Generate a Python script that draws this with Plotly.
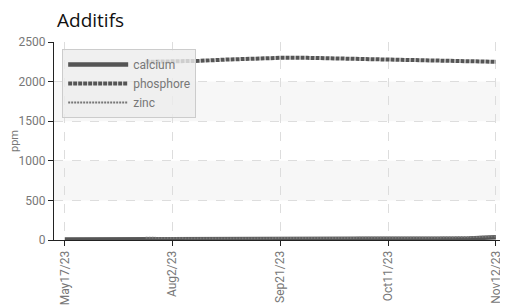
import plotly.graph_objects as go

dates = ["May17/23", "Jun5/23", "Jun21/23", "Jul12/23", "Aug2/23", "Aug9/23", "Aug23/23",
         "Sep7/23", "Sep21/23", "Sep26/23", "Oct1/23", "Oct6/23", "Oct11/23", "Oct19/23",
         "Oct27/23", "Nov4/23", "Nov12/23"]
tick_labels = ["May17/23", "Aug2/23", "Sep21/23", "Oct11/23", "Nov12/23"]

calcium = [5, 6, 6, 8, 10, 10, 10, 10, 10, 10, 10, 10, 10, 12, 14, 20, 35]
phosphore = [None, None, None, 2250, 2255, 2262, 2278, 2292, 2300, 2300, 2292, 2288, 2282,
             2270, 2258, 2254, 2250]
zinc = [None, None, None, 28, 22, 22, 22, 22, 22, 22, 22, 22, 24, 26, 30, 36, 45]

font_tick = "Roboto, sans-serif"

fig = go.Figure()
fig.add_trace(go.Scatter(x=dates, y=calcium, name="calcium", mode="lines",
                         line=dict(color="#555555", width=4.5), connectgaps=True))
fig.add_trace(go.Scatter(x=dates, y=phosphore, name="phosphore", mode="lines",
                         line=dict(color="#555555", width=4, dash="4px,1px"), connectgaps=True))
fig.add_trace(go.Scatter(x=dates, y=zinc, name="zinc", mode="lines",
                         line=dict(color="#777777", width=2, dash="2px,1px"), connectgaps=True))

for lo, hi in [(500, 1000), (1500, 2000)]:
    fig.add_shape(type="rect", xref="paper", yref="y", x0=0, x1=1, y0=lo, y1=hi,
                  fillcolor="#f7f7f7", line=dict(width=0), layer="below")

W, H = 500, 297
fig.update_layout(
    width=W, height=H,
    margin=dict(l=46, r=0, t=34, b=65, autoexpand=False),
    paper_bgcolor="white", plot_bgcolor="white",
    title=dict(text="Additifs", x=49/W, xref="container", xanchor="left",
               y=1-12/H, yref="container", yanchor="middle",
               font=dict(family="Open Sans, sans-serif", size=19, color="#111111")),
    showlegend=True,
    legend=dict(x=0.018, y=0.965, xanchor="left", yanchor="top",
                bgcolor="rgba(236,236,236,0.8)", bordercolor="#cccccc", borderwidth=1,
                font=dict(family=font_tick, size=12, color="#777777"),
                itemwidth=60, tracegroupgap=0),
    xaxis=dict(type="category", range=[-0.4, 16.45], tickmode="array", tickvals=tick_labels,
               ticktext=tick_labels, tickangle=-90, showline=True, linecolor="#222222",
               ticks="outside", ticklen=5, tickcolor="#222222",
               showgrid=True, gridcolor="#dddddd", griddash="dash",
               tickfont=dict(family=font_tick, size=12, color="#777777"), zeroline=False),
    yaxis=dict(range=[0, 2500], tickvals=[0, 500, 1000, 1500, 2000, 2500], showline=True,
               linecolor="#222222", ticks="outside", ticklen=5, tickcolor="#222222",
               showgrid=True, gridcolor="#dddddd", griddash="dash", zeroline=False,
               title=dict(text="ppm", font=dict(family=font_tick, size=11, color="#777777"),
                          standoff=8),
               tickfont=dict(family=font_tick, size=12, color="#777777")),
)

fig.write_html("out.html")
